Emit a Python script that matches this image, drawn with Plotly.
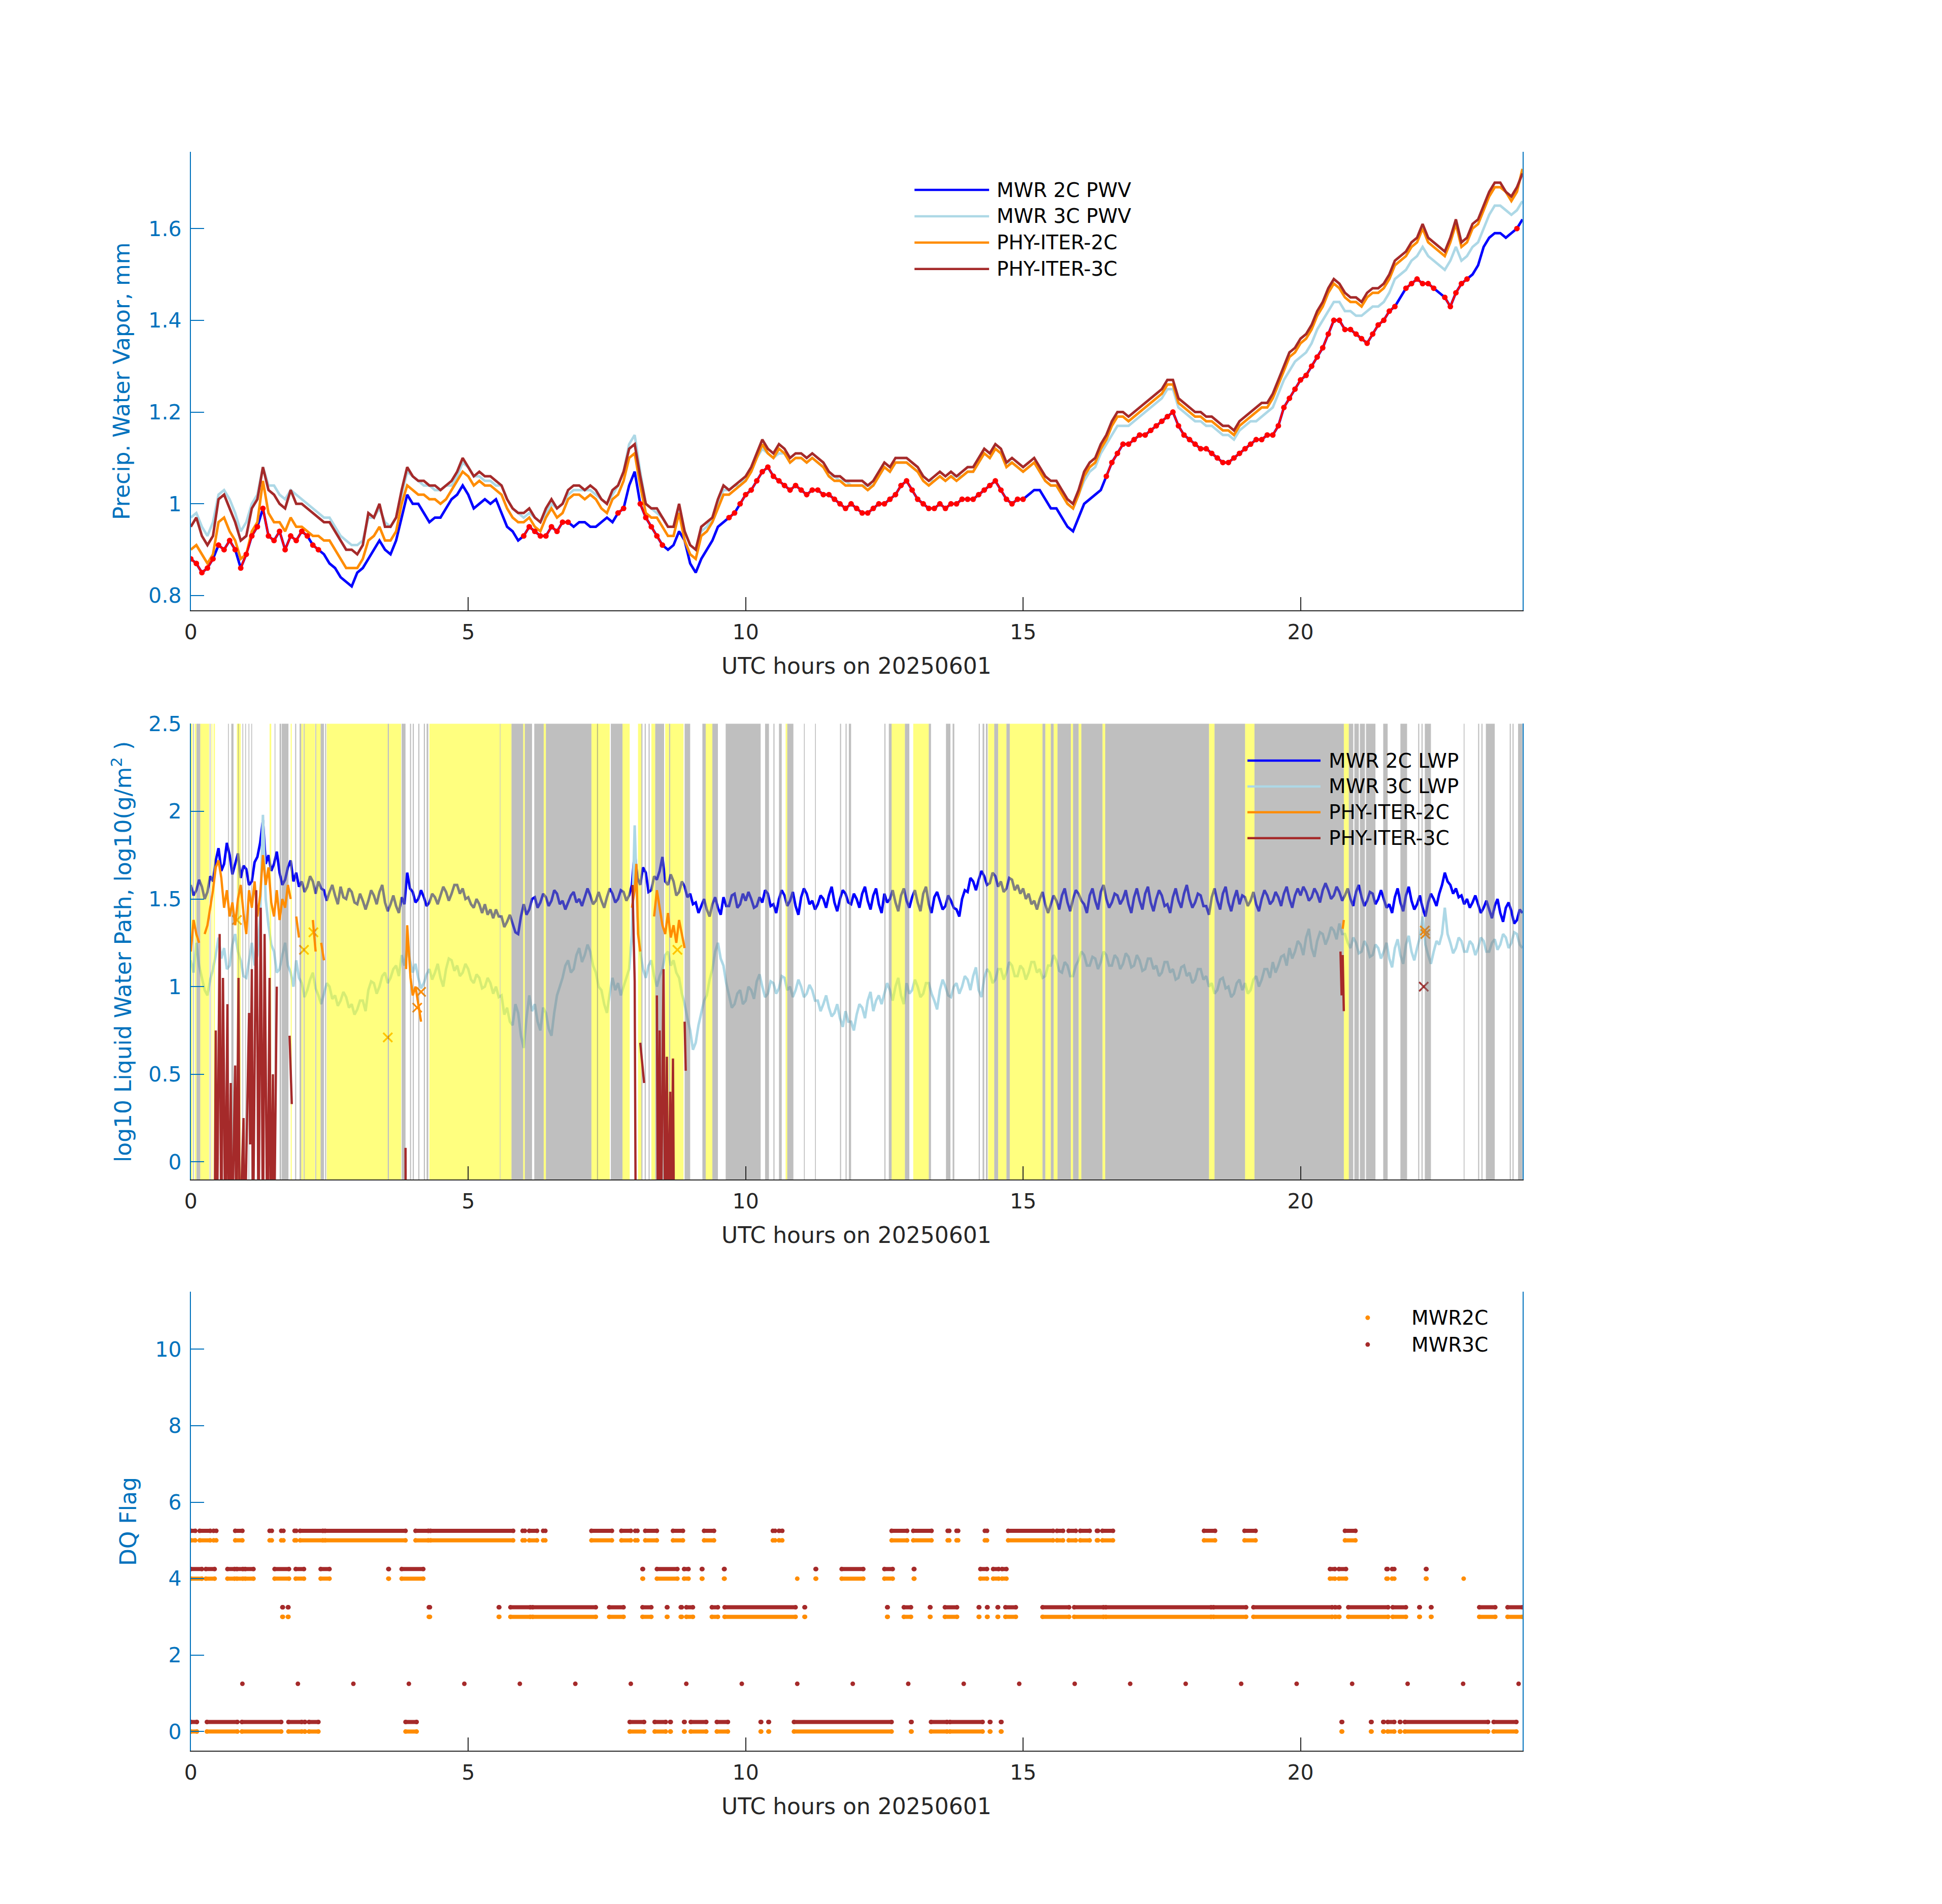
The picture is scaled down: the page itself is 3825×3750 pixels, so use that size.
import numpy as np
import plotly.graph_objects as go

W, H = 3825, 3750

# sample times, UTC hours: PWV every 6 minutes, LWP every 3 minutes
hours = np.round(np.arange(241) * 0.1, 2)
hours_fine = np.round(np.arange(481) * 0.05, 2)

# ---- precipitable water vapour, mm ----
pwv_mwr2c = [
    0.88, 0.87, 0.85, 0.86, 0.88, 0.91, 0.90, 0.92, 0.90, 0.86,
    0.89, 0.93, 0.95, 0.99, 0.93, 0.92, 0.94, 0.90, 0.93, 0.92,
    0.94, 0.93, 0.91, 0.90, 0.89, 0.87, 0.86, 0.84, 0.83, 0.82,
    0.85, 0.86, 0.88, 0.90, 0.92, 0.90, 0.89, 0.92, 0.97, 1.02,
    1.00, 1.00, 0.98, 0.96, 0.97, 0.97, 0.99, 1.01, 1.02, 1.04,
    1.02, 0.99, 1.00, 1.01, 1.00, 1.01, 0.98, 0.95, 0.94, 0.92,
    0.93, 0.95, 0.94, 0.93, 0.93, 0.95, 0.94, 0.96, 0.96, 0.95,
    0.96, 0.96, 0.95, 0.95, 0.96, 0.97, 0.96, 0.98, 0.99, 1.04,
    1.07, 1.00, 0.97, 0.95, 0.93, 0.91, 0.90, 0.91, 0.94, 0.92,
    0.87, 0.85, 0.88, 0.90, 0.92, 0.95, 0.96, 0.97, 0.98, 1.00,
    1.02, 1.03, 1.05, 1.07, 1.08, 1.06, 1.05, 1.04, 1.03, 1.04,
    1.03, 1.02, 1.03, 1.03, 1.02, 1.02, 1.01, 1.00, 0.99, 1.00,
    0.99, 0.98, 0.98, 0.99, 1.00, 1.00, 1.01, 1.02, 1.04, 1.05,
    1.03, 1.01, 1.00, 0.99, 0.99, 1.00, 0.99, 1.00, 1.00, 1.01,
    1.01, 1.01, 1.02, 1.03, 1.04, 1.05, 1.03, 1.01, 1.00, 1.01,
    1.01, 1.02, 1.03, 1.03, 1.01, 0.99, 0.99, 0.97, 0.95, 0.94,
    0.97, 1.00, 1.01, 1.02, 1.03, 1.06, 1.09, 1.11, 1.13, 1.13,
    1.14, 1.15, 1.15, 1.16, 1.17, 1.18, 1.19, 1.20, 1.17, 1.15,
    1.14, 1.13, 1.12, 1.12, 1.11, 1.10, 1.09, 1.09, 1.10, 1.11,
    1.12, 1.13, 1.14, 1.14, 1.15, 1.15, 1.17, 1.21, 1.23, 1.25,
    1.27, 1.28, 1.30, 1.32, 1.34, 1.37, 1.40, 1.40, 1.38, 1.38,
    1.37, 1.36, 1.35, 1.37, 1.39, 1.40, 1.42, 1.43, 1.45, 1.47,
    1.48, 1.49, 1.48, 1.48, 1.47, 1.46, 1.45, 1.43, 1.46, 1.48,
    1.49, 1.50, 1.52, 1.56, 1.58, 1.59, 1.59, 1.58, 1.59, 1.60,
    1.62,
]
pwv_mwr3c = [
    0.97, 0.98, 0.95, 0.93, 0.96, 1.02, 1.03, 1.01, 0.98, 0.94,
    0.96, 1.00, 1.02, 1.08, 1.04, 1.04, 1.02, 1.01, 1.03, 1.02,
    1.01, 1.00, 0.99, 0.98, 0.97, 0.97, 0.95, 0.93, 0.92, 0.91,
    0.91, 0.92, 0.97, 0.97, 0.99, 0.96, 0.95, 0.97, 1.02, 1.07,
    1.06, 1.05, 1.04, 1.04, 1.03, 1.03, 1.04, 1.04, 1.06, 1.09,
    1.08, 1.06, 1.06, 1.05, 1.05, 1.04, 1.04, 1.01, 0.99, 0.98,
    0.97, 0.98, 0.97, 0.96, 0.98, 1.00, 0.99, 1.00, 1.02, 1.03,
    1.03, 1.03, 1.03, 1.02, 1.01, 1.00, 1.02, 1.04, 1.07, 1.13,
    1.15, 1.07, 1.00, 0.99, 0.98, 0.97, 0.95, 0.95, 0.99, 0.94,
    0.91, 0.90, 0.94, 0.95, 0.97, 1.00, 1.03, 1.03, 1.04, 1.04,
    1.06, 1.07, 1.10, 1.12, 1.11, 1.10, 1.11, 1.11, 1.09, 1.10,
    1.10, 1.09, 1.10, 1.09, 1.08, 1.06, 1.06, 1.05, 1.05, 1.04,
    1.04, 1.04, 1.04, 1.04, 1.06, 1.08, 1.07, 1.09, 1.09, 1.09,
    1.08, 1.07, 1.06, 1.05, 1.05, 1.06, 1.05, 1.06, 1.06, 1.06,
    1.07, 1.07, 1.09, 1.11, 1.10, 1.12, 1.11, 1.09, 1.09, 1.08,
    1.07, 1.08, 1.09, 1.07, 1.05, 1.04, 1.04, 1.02, 1.00, 0.99,
    1.02, 1.05, 1.07, 1.08, 1.11, 1.13, 1.15, 1.17, 1.17, 1.17,
    1.18, 1.19, 1.20, 1.21, 1.22, 1.23, 1.25, 1.25, 1.21, 1.20,
    1.19, 1.18, 1.18, 1.17, 1.17, 1.16, 1.15, 1.15, 1.14, 1.16,
    1.17, 1.18, 1.18, 1.19, 1.20, 1.21, 1.24, 1.27, 1.29, 1.31,
    1.32, 1.33, 1.35, 1.38, 1.40, 1.42, 1.44, 1.44, 1.42, 1.42,
    1.41, 1.41, 1.42, 1.43, 1.43, 1.44, 1.46, 1.49, 1.50, 1.51,
    1.53, 1.54, 1.56, 1.54, 1.53, 1.52, 1.51, 1.53, 1.56, 1.53,
    1.54, 1.56, 1.57, 1.60, 1.63, 1.65, 1.65, 1.64, 1.63, 1.64,
    1.66,
]
pwv_phy2c = [
    0.90, 0.91, 0.89, 0.87, 0.89, 0.96, 0.97, 0.94, 0.92, 0.88,
    0.89, 0.94, 0.96, 1.05, 0.98, 0.96, 0.96, 0.94, 0.97, 0.95,
    0.95, 0.94, 0.93, 0.93, 0.92, 0.92, 0.90, 0.88, 0.86, 0.86,
    0.86, 0.88, 0.92, 0.93, 0.95, 0.92, 0.92, 0.94, 1.00, 1.04,
    1.03, 1.02, 1.02, 1.01, 1.01, 1.00, 1.01, 1.03, 1.05, 1.07,
    1.06, 1.04, 1.05, 1.04, 1.04, 1.03, 1.02, 0.99, 0.97, 0.96,
    0.96, 0.97, 0.95, 0.94, 0.97, 0.99, 0.97, 0.98, 1.01, 1.02,
    1.02, 1.01, 1.02, 1.01, 0.99, 0.98, 1.01, 1.02, 1.05, 1.10,
    1.11, 1.04, 0.98, 0.97, 0.97, 0.95, 0.93, 0.93, 0.98, 0.92,
    0.89, 0.88, 0.93, 0.94, 0.96, 0.99, 1.02, 1.02, 1.03, 1.04,
    1.05, 1.07, 1.10, 1.13, 1.11, 1.10, 1.12, 1.11, 1.09, 1.10,
    1.10, 1.09, 1.10, 1.09, 1.08, 1.06, 1.05, 1.05, 1.04, 1.04,
    1.04, 1.04, 1.03, 1.04, 1.06, 1.08, 1.07, 1.09, 1.09, 1.09,
    1.08, 1.07, 1.05, 1.04, 1.05, 1.06, 1.05, 1.06, 1.05, 1.06,
    1.07, 1.07, 1.09, 1.11, 1.10, 1.12, 1.11, 1.08, 1.09, 1.08,
    1.07, 1.08, 1.09, 1.07, 1.05, 1.04, 1.04, 1.02, 1.00, 0.99,
    1.02, 1.06, 1.08, 1.09, 1.12, 1.14, 1.17, 1.19, 1.19, 1.18,
    1.19, 1.20, 1.21, 1.22, 1.23, 1.24, 1.26, 1.26, 1.22, 1.21,
    1.20, 1.19, 1.19, 1.18, 1.18, 1.17, 1.16, 1.16, 1.15, 1.17,
    1.18, 1.19, 1.20, 1.21, 1.21, 1.23, 1.26, 1.29, 1.32, 1.33,
    1.35, 1.36, 1.38, 1.41, 1.43, 1.46, 1.48, 1.47, 1.45, 1.44,
    1.44, 1.43, 1.45, 1.46, 1.46, 1.47, 1.49, 1.52, 1.53, 1.54,
    1.56, 1.57, 1.60, 1.57, 1.56, 1.55, 1.54, 1.57, 1.61, 1.56,
    1.57, 1.60, 1.61, 1.64, 1.67, 1.69, 1.69, 1.68, 1.66, 1.68,
    1.73,
]
pwv_phy3c = [
    0.95, 0.97, 0.93, 0.91, 0.93, 1.01, 1.02, 0.99, 0.96, 0.92,
    0.93, 0.99, 1.01, 1.08, 1.03, 1.02, 1.00, 0.99, 1.03, 1.00,
    1.00, 0.99, 0.98, 0.97, 0.96, 0.96, 0.94, 0.92, 0.90, 0.90,
    0.89, 0.91, 0.98, 0.97, 1.00, 0.95, 0.95, 0.97, 1.03, 1.08,
    1.06, 1.05, 1.05, 1.04, 1.04, 1.03, 1.04, 1.05, 1.07, 1.10,
    1.08, 1.06, 1.07, 1.06, 1.06, 1.05, 1.04, 1.01, 0.99, 0.98,
    0.98, 0.99, 0.97, 0.96, 0.99, 1.01, 0.99, 1.00, 1.03, 1.04,
    1.04, 1.03, 1.04, 1.03, 1.01, 1.00, 1.03, 1.04, 1.07, 1.12,
    1.13, 1.06, 1.00, 0.99, 0.99, 0.97, 0.95, 0.95, 1.00, 0.94,
    0.91, 0.90, 0.95, 0.96, 0.97, 1.01, 1.04, 1.03, 1.04, 1.05,
    1.06, 1.08, 1.11, 1.14, 1.12, 1.11, 1.13, 1.12, 1.10, 1.11,
    1.11, 1.10, 1.11, 1.10, 1.09, 1.07, 1.06, 1.06, 1.05, 1.05,
    1.05, 1.05, 1.04, 1.05, 1.07, 1.09, 1.08, 1.10, 1.10, 1.10,
    1.09, 1.08, 1.06, 1.05, 1.06, 1.07, 1.06, 1.07, 1.06, 1.07,
    1.08, 1.08, 1.10, 1.12, 1.11, 1.13, 1.12, 1.09, 1.10, 1.09,
    1.08, 1.09, 1.10, 1.08, 1.06, 1.05, 1.05, 1.03, 1.01, 1.00,
    1.03, 1.07, 1.09, 1.10, 1.13, 1.15, 1.18, 1.20, 1.20, 1.19,
    1.20, 1.21, 1.22, 1.23, 1.24, 1.25, 1.27, 1.27, 1.23, 1.22,
    1.21, 1.20, 1.20, 1.19, 1.19, 1.18, 1.17, 1.17, 1.16, 1.18,
    1.19, 1.20, 1.21, 1.22, 1.22, 1.24, 1.27, 1.30, 1.33, 1.34,
    1.36, 1.37, 1.39, 1.42, 1.44, 1.47, 1.49, 1.48, 1.46, 1.45,
    1.45, 1.44, 1.46, 1.47, 1.47, 1.48, 1.50, 1.53, 1.54, 1.55,
    1.57, 1.58, 1.61, 1.58, 1.57, 1.56, 1.55, 1.58, 1.62, 1.57,
    1.58, 1.61, 1.62, 1.65, 1.68, 1.70, 1.70, 1.68, 1.67, 1.69,
    1.72,
]

# stretches where the MWR 2C PWV samples are marked in red (start, end hour)
pwv_red_spans = [
    (0.0, 0.4), (0.5, 0.8), (0.9, 1.2), (1.3, 2.1), (2.2, 2.3), (6.0, 6.8),
    (7.7, 7.8), (8.1, 8.5), (9.7, 9.8), (9.9, 15.0), (16.5, 20.6),
    (20.7, 21.7), (21.9, 22.4), (22.6, 23.0), (23.9, 23.9),
]

# ---- liquid water path, log10(g/m^2), on hours_fine ----
lwp_mwr2c = [
    1.58, 1.52, 1.55, 1.61, 1.57, 1.50, 1.54, 1.63, 1.60, 1.72, 1.79, 1.66, 1.70, 1.82, 1.75, 1.64, 1.70, 1.76, 1.62, 1.69,
    1.67, 1.58, 1.60, 1.71, 1.74, 1.82, 1.95, 1.70, 1.75, 1.66, 1.70, 1.77, 1.65, 1.58, 1.61, 1.68, 1.72, 1.60, 1.65, 1.57,
    1.60, 1.54, 1.57, 1.63, 1.60, 1.53, 1.60, 1.56, 1.55, 1.49, 1.54, 1.58, 1.52, 1.47, 1.57, 1.51, 1.50, 1.56, 1.54, 1.48,
    1.47, 1.53, 1.49, 1.44, 1.49, 1.55, 1.52, 1.47, 1.54, 1.58, 1.48, 1.43, 1.47, 1.52, 1.46, 1.42, 1.51, 1.47, 1.65, 1.56,
    1.54, 1.48, 1.50, 1.55, 1.51, 1.46, 1.48, 1.53, 1.51, 1.47, 1.52, 1.57, 1.54, 1.49, 1.53, 1.58, 1.58, 1.53, 1.56, 1.50,
    1.51, 1.47, 1.45, 1.50, 1.47, 1.42, 1.47, 1.41, 1.44, 1.39, 1.44, 1.40, 1.40, 1.34, 1.37, 1.41, 1.36, 1.31, 1.30, 1.40,
    1.47, 1.41, 1.44, 1.50, 1.51, 1.45, 1.48, 1.53, 1.51, 1.46, 1.49, 1.55, 1.53, 1.47, 1.49, 1.44, 1.48, 1.52, 1.54, 1.48,
    1.50, 1.46, 1.51, 1.56, 1.52, 1.47, 1.49, 1.54, 1.49, 1.45, 1.51, 1.56, 1.53, 1.48, 1.50, 1.55, 1.54, 1.49, 1.52, 1.58,
    1.77, 1.62, 1.58, 1.68, 1.65, 1.54, 1.55, 1.63, 1.61, 1.66, 1.74, 1.60, 1.58, 1.64, 1.60, 1.52, 1.54, 1.60, 1.57, 1.51,
    1.53, 1.47, 1.48, 1.42, 1.46, 1.50, 1.44, 1.40, 1.47, 1.51, 1.45, 1.41, 1.51, 1.46, 1.46, 1.52, 1.53, 1.45, 1.47, 1.53,
    1.49, 1.54, 1.50, 1.45, 1.46, 1.51, 1.48, 1.55, 1.53, 1.46, 1.47, 1.42, 1.50, 1.55, 1.52, 1.46, 1.49, 1.54, 1.46, 1.41,
    1.51, 1.56, 1.53, 1.47, 1.49, 1.44, 1.47, 1.52, 1.50, 1.45, 1.52, 1.57, 1.48, 1.43, 1.50, 1.55, 1.53, 1.48, 1.47, 1.53,
    1.50, 1.45, 1.53, 1.57, 1.49, 1.44, 1.52, 1.56, 1.47, 1.42, 1.53, 1.48, 1.50, 1.55, 1.48, 1.43, 1.52, 1.56, 1.49, 1.45,
    1.51, 1.55, 1.48, 1.43, 1.53, 1.57, 1.47, 1.42, 1.51, 1.54, 1.49, 1.44, 1.46, 1.52, 1.49, 1.45, 1.44, 1.40, 1.50, 1.55,
    1.54, 1.62, 1.60, 1.55, 1.61, 1.66, 1.63, 1.58, 1.59, 1.65, 1.63, 1.57, 1.60, 1.54, 1.56, 1.62, 1.61, 1.55, 1.58, 1.53,
    1.56, 1.50, 1.53, 1.47, 1.49, 1.44, 1.50, 1.54, 1.47, 1.42, 1.47, 1.52, 1.49, 1.44, 1.52, 1.56, 1.48, 1.43, 1.50, 1.55,
    1.53, 1.49, 1.47, 1.42, 1.52, 1.56, 1.49, 1.44, 1.54, 1.58, 1.50, 1.45, 1.48, 1.53, 1.52, 1.47, 1.50, 1.55, 1.47, 1.42,
    1.51, 1.56, 1.49, 1.44, 1.53, 1.57, 1.48, 1.43, 1.50, 1.55, 1.52, 1.46, 1.47, 1.42, 1.51, 1.56, 1.49, 1.45, 1.53, 1.58,
    1.50, 1.45, 1.48, 1.53, 1.52, 1.46, 1.46, 1.41, 1.51, 1.56, 1.49, 1.44, 1.53, 1.57, 1.48, 1.43, 1.50, 1.55, 1.47, 1.52,
    1.51, 1.46, 1.49, 1.54, 1.47, 1.43, 1.50, 1.55, 1.52, 1.47, 1.49, 1.54, 1.51, 1.46, 1.53, 1.57, 1.50, 1.45, 1.52, 1.56,
    1.52, 1.57, 1.54, 1.49, 1.51, 1.56, 1.53, 1.48, 1.55, 1.59, 1.55, 1.50, 1.52, 1.57, 1.54, 1.49, 1.52, 1.56, 1.50, 1.46,
    1.54, 1.58, 1.51, 1.46, 1.49, 1.54, 1.53, 1.47, 1.50, 1.55, 1.50, 1.45, 1.47, 1.42, 1.51, 1.56, 1.48, 1.43, 1.52, 1.57,
    1.49, 1.44, 1.47, 1.52, 1.45, 1.40, 1.48, 1.53, 1.50, 1.46, 1.53, 1.58, 1.65, 1.60, 1.58, 1.53, 1.56, 1.51, 1.52, 1.47,
    1.50, 1.45, 1.48, 1.52, 1.47, 1.42, 1.45, 1.49, 1.44, 1.39, 1.46, 1.50, 1.42, 1.37, 1.45, 1.48, 1.43, 1.36, 1.38, 1.44,
    1.42,
]
lwp_mwr3c = [
    1.15, 1.08, 1.25, 1.12, 1.05, 0.98, 0.95, 1.04, 1.10, 1.18, 1.28, 1.16, 1.22, 1.10, 1.12, 1.24, 1.30, 1.20, 1.15, 1.06,
    1.05, 1.14, 1.25, 1.12, 1.18, 1.40, 1.98, 1.50, 1.35, 1.24, 1.20, 1.08, 1.10, 1.18, 1.25, 1.12, 1.08, 1.00, 1.15, 1.05,
    1.02, 0.94, 0.98, 1.04, 1.08, 0.99, 0.95, 0.90, 0.96, 1.02, 1.00, 0.93, 0.95, 0.89, 0.92, 0.97, 0.94, 0.88, 0.90, 0.84,
    0.87, 0.92, 0.92, 0.86, 0.98, 1.03, 1.02, 0.96, 1.00, 1.06, 1.08, 1.02, 1.05, 1.10, 1.12, 1.06, 1.18, 1.12, 1.22, 1.15,
    1.08, 1.13, 1.05, 0.99, 1.02, 1.07, 1.10, 1.04, 1.08, 1.13, 1.05, 1.00, 1.10, 1.16, 1.15, 1.09, 1.12, 1.06, 1.08, 1.13,
    1.10, 1.04, 1.02, 1.07, 1.05, 0.99, 1.00, 1.05, 1.02, 0.96, 1.00, 0.94, 0.95, 0.84, 0.88, 0.80, 0.78, 0.90, 0.85, 0.72,
    0.65, 0.82, 0.95, 0.86, 0.90, 0.80, 0.75, 0.88, 0.85, 0.76, 0.72, 0.85, 0.95, 1.00, 1.05, 1.12, 1.15, 1.08, 1.10, 1.18,
    1.22, 1.14, 1.18, 1.24, 1.20, 1.12, 1.08, 1.00, 0.98, 0.90, 0.85, 0.96, 1.05, 0.98, 1.02, 0.95, 1.00, 1.06, 1.10, 1.30,
    1.92, 1.40, 1.20, 1.10, 1.05, 1.12, 1.15, 1.06, 1.00, 1.06, 1.10, 1.18, 1.20, 1.12, 1.15, 1.08, 1.05, 0.96, 0.90, 0.82,
    0.75, 0.64, 0.68, 0.78, 0.85, 0.92, 0.95, 1.04, 1.10, 1.20, 1.25, 1.16, 1.12, 1.02, 0.95, 0.88, 0.90, 0.96, 0.98, 0.90,
    0.92, 1.00, 0.98, 0.93, 1.03, 1.07, 1.00, 0.94, 0.96, 1.03, 1.02, 0.96, 0.99, 1.06, 1.05, 0.98, 1.00, 0.94, 0.98, 1.04,
    1.00, 0.94, 0.96, 1.01, 0.98, 0.92, 0.92, 0.86, 0.90, 0.95, 0.88, 0.83, 0.85, 0.90, 0.82, 0.77, 0.86, 0.80, 0.80, 0.75,
    0.84, 0.90, 0.88, 0.82, 0.92, 0.97, 0.86, 0.92, 0.95, 0.90, 0.96, 1.02, 0.98, 0.92, 1.00, 1.05, 0.95, 0.90, 1.02, 0.96,
    0.98, 1.04, 1.00, 0.94, 0.96, 1.02, 1.02, 0.96, 0.92, 0.87, 0.98, 1.04, 1.00, 0.95, 0.94, 1.00, 1.02, 0.96, 1.00, 1.06,
    1.04, 0.98, 1.06, 1.11, 0.98, 0.94, 1.05, 1.10, 1.08, 1.02, 1.04, 1.10, 1.10, 1.04, 1.08, 1.14, 1.12, 1.06, 1.06, 1.12,
    1.10, 1.04, 1.08, 1.14, 1.14, 1.08, 1.10, 1.05, 1.06, 1.12, 1.12, 1.18, 1.15, 1.09, 1.08, 1.14, 1.12, 1.06, 1.06, 1.12,
    1.15, 1.20, 1.18, 1.12, 1.12, 1.17, 1.16, 1.10, 1.14, 1.20, 1.18, 1.12, 1.12, 1.18, 1.16, 1.10, 1.13, 1.19, 1.17, 1.11,
    1.12, 1.18, 1.15, 1.09, 1.10, 1.16, 1.16, 1.10, 1.12, 1.06, 1.08, 1.14, 1.14, 1.08, 1.10, 1.04, 1.05, 1.11, 1.12, 1.06,
    1.08, 1.02, 1.04, 1.10, 1.10, 1.04, 1.06, 1.00, 1.02, 0.96, 0.98, 1.04, 1.05, 0.99, 1.00, 0.94, 0.96, 1.02, 1.04, 0.98,
    1.02, 0.96, 0.98, 1.04, 1.06, 1.00, 1.04, 1.10, 1.10, 1.05, 1.14, 1.08, 1.12, 1.17, 1.18, 1.12, 1.22, 1.16, 1.20, 1.26,
    1.24, 1.18, 1.28, 1.33, 1.22, 1.17, 1.26, 1.31, 1.30, 1.24, 1.28, 1.34, 1.32, 1.27, 1.36, 1.30, 1.30, 1.25, 1.22, 1.28,
    1.25, 1.19, 1.20, 1.26, 1.23, 1.17, 1.18, 1.24, 1.22, 1.16, 1.20, 1.25, 1.16, 1.11, 1.22, 1.27, 1.18, 1.13, 1.24, 1.29,
    1.20, 1.15, 1.22, 1.28, 1.40, 1.24, 1.18, 1.13, 1.20, 1.26, 1.24, 1.30, 1.45, 1.30, 1.25, 1.19, 1.22, 1.28, 1.26, 1.20,
    1.20, 1.26, 1.24, 1.18, 1.22, 1.28, 1.26, 1.20, 1.20, 1.25, 1.27, 1.21, 1.24, 1.30, 1.28, 1.22, 1.25, 1.31, 1.30, 1.24,
    1.22,
]

# physical-iterative retrievals: only short stretches exist (None = gap)
lwp_phy2c_t = [0.00, 0.05, 0.10, 0.15, None,
               0.25, 0.30, 0.35, 0.40, 0.45, 0.50, 0.55, 0.60, 0.65, 0.70,
               0.75, 0.80, 0.85, 0.90, 0.95, 1.00, 1.05, 1.10, 1.15, 1.20,
               1.25, 1.30, 1.35, 1.40, 1.45, 1.50, 1.55, 1.60, 1.65, 1.70,
               1.75, 1.80, None, 1.90, 1.95, None, 2.20, 2.25, None, 2.35, 2.40, None,
               3.88, 3.90, 3.93, 3.96, 4.00, 4.05, 4.10, 4.15, None,
               7.95, 8.00, 8.03, 8.06, 8.10, None,
               8.35, 8.40, 8.45, 8.50, 8.55, 8.60, 8.65, 8.70, 8.75, 8.80,
               8.85, 8.90, None, 20.76, 20.78]
lwp_phy2c_v = [1.20, 1.38, 1.30, 1.25, None,
               1.30, 1.35, 1.45, 1.55, 1.68, 1.72, 1.62, 1.45, 1.55, 1.40,
               1.48, 1.35, 1.50, 1.58, 1.42, 1.30, 1.55, 1.45, 1.60, 1.40,
               1.52, 1.75, 1.58, 1.68, 1.48, 1.40, 1.55, 1.38, 1.50, 1.45,
               1.58, 1.50, None, 1.40, 1.28, None, 1.38, 1.20, None, 1.25, 1.15, None,
               1.10, 1.35, 1.20, 1.05, 0.95, 1.00, 0.90, 0.80, None,
               1.45, 1.55, 1.70, 1.30, 1.20, None,
               1.40, 1.55, 1.45, 1.35, 1.30, 1.42, 1.28, 1.35, 1.25, 1.38,
               1.30, 1.22, None, 1.33, 1.38]
# values below the axis stand for log10 of near-zero water paths
lwp_phy3c_t = [0.43, 0.45, 0.47, 0.52, 0.55, 0.58, 0.60, 0.62, 0.66, 0.68,
               0.72, 0.74, 0.80, 0.82, 0.86, 0.88, 0.95, 0.97, 1.05, 1.07,
               1.10, 1.12, 1.18, 1.20, 1.22, 1.26, 1.28, 1.30, 1.33, 1.36,
               1.38, 1.42, 1.44, 1.48, 1.50, 1.55, None,
               1.78, 1.80, 1.82, None, 3.87, 3.875, None,
               7.96, 7.98, 8.00, 8.02, None, 8.10, 8.14, 8.17, None,
               8.40, 8.42, 8.45, 8.47, 8.52, 8.55, 8.58, 8.60, 8.64, 8.66,
               8.69, 8.71, None, 8.90, 8.92, None,
               20.72, 20.74, 20.76, 20.78]
lwp_phy3c_v = [-0.5, 0.75, -0.5, 1.30, -0.5, 1.05, 0.40, -0.5, 0.90, -0.5,
               0.45, -0.5, 0.55, -0.5, 1.05, -0.5, 0.25, -0.5, 0.85, 0.10,
               1.10, -0.5, 1.55, 0.80, -0.5, 1.45, 0.60, -0.5, 1.30, 0.20,
               -0.5, 1.05, -0.5, 0.50, -0.5, 1.00, None,
               0.72, 0.55, 0.33, None, 0.08, -0.5, None,
               1.58, 1.25, 1.03, -0.5, None, 0.68, 0.55, 0.45, None,
               0.95, -0.5, 0.75, -0.5, 1.10, -0.5, 0.60, -0.5, 0.40, -0.5,
               0.59, -0.5, None, 0.80, 0.52, None,
               1.20, 0.95, 1.18, 0.86]

# isolated retrievals shown as crosses
lwp_x2c_t = [0.83, 2.04, 2.21, 3.55, 4.08, 4.15, 8.77, 22.24, 22.25]
lwp_x2c_v = [1.38, 1.21, 1.31, 0.71, 0.88, 0.97, 1.21, 1.32, 1.30]
lwp_x3c_t = [22.22]
lwp_x3c_v = [1.00]

# sky-condition flags shaded in the LWP panel (start, end hour)
yellow_spans = [
    (0.00, 0.03), (0.07, 0.10), (0.17, 0.33), (0.37, 0.39), (0.41, 0.435),
    (0.83, 0.90), (1.42, 1.45), (1.80, 1.82), (1.99, 2.03), (2.05, 2.24),
    (2.26, 2.34), (2.45, 3.55), (3.57, 3.79), (4.30, 5.57), (5.58, 5.78),
    (5.99, 6.02), (6.36, 6.40), (7.22, 7.55), (7.78, 7.91), (8.06, 8.12),
    (8.30, 8.37), (8.55, 8.62), (8.64, 8.88), (9.28, 9.40), (10.72, 10.75),
    (12.63, 12.87), (13.02, 13.30), (14.37, 14.48), (14.55, 14.70),
    (14.76, 15.35), (15.40, 15.50), (15.55, 15.62), (15.86, 15.90),
    (16.00, 16.05), (16.43, 16.48), (18.35, 18.45), (19.00, 19.17),
    (20.78, 20.87),
]
gray_spans = [
    (0.04, 0.055), (0.103, 0.17), (0.34, 0.355), (0.67, 0.685), (0.73, 0.77),
    (0.85, 0.865), (0.93, 0.945), (0.98, 0.995), (1.04, 1.055), (1.09, 1.105),
    (1.51, 1.525), (1.60, 1.63), (1.64, 1.76), (1.88, 1.90), (1.96, 1.99),
    (2.035, 2.05), (2.245, 2.26), (2.34, 2.40), (2.42, 2.44), (3.55, 3.57),
    (3.80, 3.87), (3.95, 3.97), (4.00, 4.02), (4.10, 4.12), (4.20, 4.22),
    (4.25, 4.28), (5.57, 5.58), (5.78, 5.99), (6.02, 6.15), (6.19, 6.36),
    (6.40, 7.22), (7.32, 7.34), (7.57, 7.78), (8.12, 8.14), (8.18, 8.20),
    (8.25, 8.27), (8.37, 8.53), (8.62, 8.64), (8.90, 9.00), (9.22, 9.28),
    (9.40, 9.50), (9.64, 10.27), (10.35, 10.42), (10.50, 10.52),
    (10.60, 10.65), (10.75, 10.86), (11.05, 11.065), (11.25, 11.265),
    (11.70, 11.72), (11.80, 11.82), (11.86, 11.90), (12.50, 12.52),
    (12.58, 12.63), (12.87, 12.95), (13.30, 13.34), (13.61, 13.69),
    (13.73, 13.76), (14.20, 14.22), (14.27, 14.30), (14.33, 14.36),
    (14.48, 14.55), (14.70, 14.76), (15.35, 15.40), (15.50, 15.55),
    (15.62, 15.86), (15.90, 16.00), (16.05, 16.43), (16.48, 18.35),
    (18.45, 19.00), (19.17, 20.78), (20.87, 20.95), (20.97, 21.05),
    (21.07, 21.16), (21.18, 21.35), (21.49, 21.57), (21.80, 21.92),
    (22.12, 22.14), (22.18, 22.20), (22.24, 22.35), (22.94, 22.955),
    (23.20, 23.22), (23.26, 23.28), (23.34, 23.50), (23.77, 23.79),
    (23.82, 23.84), (23.92, 24.00),
]

# ---- data-quality flag runs (start, end hour), shared by both radiometers ----
dq_flag_runs = {
    5: [(0.00, 0.08), (0.16, 0.35), (0.41, 0.46), (0.80, 0.93), (1.42, 1.46),
        (1.63, 1.67), (1.87, 1.90), (1.97, 2.38), (2.42, 3.87), (4.05, 4.28),
        (4.32, 5.81), (5.98, 6.02), (6.10, 6.24), (6.35, 6.39), (7.22, 7.59),
        (7.76, 7.93), (8.01, 8.05), (8.19, 8.40), (8.69, 8.87), (9.25, 9.43),
        (10.49, 10.53), (10.60, 10.66), (12.63, 12.91), (13.02, 13.35),
        (13.64, 13.67), (13.80, 13.83), (14.31, 14.35), (14.73, 15.54),
        (15.61, 15.72), (15.82, 15.95), (16.03, 16.20), (16.33, 16.35),
        (16.43, 16.62), (18.26, 18.46), (18.99, 19.19), (20.80, 20.99)],
    4: [(0.00, 0.20), (0.27, 0.43), (0.66, 0.79), (0.83, 0.94), (0.98, 1.13),
        (1.51, 1.77), (1.89, 2.04), (2.34, 2.50), (3.56, 3.57), (3.80, 4.19),
        (8.14, 8.15), (8.40, 8.77), (8.89, 8.97), (9.21, 9.22), (9.61, 9.62),
        (11.26, 11.27), (11.73, 12.12), (12.50, 12.65), (13.03, 13.04),
        (14.23, 14.35), (14.46, 14.56), (14.62, 14.70), (20.53, 20.62),
        (20.69, 20.82), (21.55, 21.57), (21.65, 21.69), (22.26, 22.27)],
    3: [(1.65, 1.66), (1.75, 1.76), (4.29, 4.31), (5.55, 5.56), (5.76, 6.12),
        (6.16, 7.30), (7.54, 7.80), (8.14, 8.30), (8.58, 8.59), (8.83, 8.85),
        (8.93, 9.05), (9.39, 9.50), (9.62, 10.90), (11.06, 11.07),
        (12.55, 12.56), (12.85, 12.98), (13.32, 13.33), (13.59, 13.81),
        (14.20, 14.21), (14.35, 14.36), (14.54, 14.55), (14.68, 14.87),
        (15.35, 15.83), (15.92, 16.45), (16.49, 18.39), (18.43, 19.02),
        (19.15, 20.57), (20.62, 20.70), (20.86, 21.58), (21.66, 21.90),
        (22.14, 22.15), (22.35, 22.36), (23.22, 23.51), (23.73, 24.00)],
    0: [(0.00, 0.11), (0.29, 0.84), (0.92, 1.63), (1.76, 2.00), (2.05, 2.06),
        (2.13, 2.30), (3.87, 4.07), (7.91, 8.17), (8.36, 8.56), (8.64, 8.65),
        (8.89, 8.90), (9.01, 9.29), (9.48, 9.68), (10.27, 10.28),
        (10.41, 10.42), (10.87, 12.63), (12.98, 12.99), (13.34, 13.63),
        (13.68, 14.27), (14.40, 14.41), (14.60, 14.61), (20.74, 20.75),
        (21.27, 21.28), (21.49, 21.50), (21.57, 21.69), (21.79, 21.80),
        (21.88, 23.38), (23.48, 23.89)],
}
dq_mwr2c_extra_flag4 = [10.93, 22.94]
dq_mwr3c_flag1 = [0.93, 1.93, 2.93, 3.93, 4.93, 5.93, 6.93, 7.93, 8.93, 9.93,
                  10.93, 11.93, 12.93, 13.93, 14.93, 15.93, 16.93, 17.93,
                  18.93, 19.93, 20.93, 21.93, 22.93, 23.93]
dq_mwr3c_offset = 0.25

pwv_names = ["MWR 2C PWV", "MWR 3C PWV", "PHY-ITER-2C", "PHY-ITER-3C"]
lwp_names = ["MWR 2C LWP", "MWR 3C LWP", "PHY-ITER-2C", "PHY-ITER-3C"]
dq_names = ["MWR2C", "MWR3C"]

C_BLUE, C_LBLUE, C_ORANGE, C_BROWN = "#0000FF", "#ADD8E6", "#FF8C00", "#A52A2A"
AX_BLUE, AX_DARK = "#0072BD", "#262626"
FONT = "DejaVu Sans"

PWV_RANGE = [0.768, 1.767]
LWP_RANGE = [-0.1, 2.5]
DQ_RANGE = [-0.5, 11.5]


# positions below are in reference pixels; nudge them onto the page
def px(x):
    return (356 + (x - 376) * 1.003) / W


def py(y):
    return 1 - (269 + (y - 296) * 1.0038) / H


fig = go.Figure()

# ---------- top: PWV ----------
for vals, col in zip([pwv_mwr2c, pwv_mwr3c, pwv_phy2c, pwv_phy3c],
                     [C_BLUE, C_LBLUE, C_ORANGE, C_BROWN]):
    fig.add_trace(go.Scatter(x=hours, y=vals, mode="lines",
                             line=dict(color=col, width=5),
                             xaxis="x", yaxis="y", hoverinfo="skip"))

red_x, red_y = [], []
for s, e in pwv_red_spans:
    for t, v in zip(hours, pwv_mwr2c):
        if s - 1e-6 <= t <= e + 1e-6:
            red_x.append(t)
            red_y.append(v)
    red_x.append(None)
    red_y.append(None)
fig.add_trace(go.Scatter(x=red_x, y=red_y, mode="lines+markers",
                         line=dict(color="#FF0000", width=4),
                         marker=dict(color="#FF0000", size=11),
                         xaxis="x", yaxis="y", hoverinfo="skip"))

# ---------- middle: LWP ----------
fig.add_trace(go.Scatter(x=hours_fine, y=lwp_mwr2c, mode="lines",
                         line=dict(color=C_BLUE, width=5),
                         xaxis="x2", yaxis="y2", hoverinfo="skip"))
fig.add_trace(go.Scatter(x=hours_fine, y=lwp_mwr3c, mode="lines",
                         line=dict(color=C_LBLUE, width=5),
                         xaxis="x2", yaxis="y2", hoverinfo="skip"))
fig.add_trace(go.Scatter(x=lwp_x2c_t, y=lwp_x2c_v, mode="markers",
                         marker=dict(symbol="x-thin", size=18,
                                     line=dict(color=C_ORANGE, width=3.5)),
                         xaxis="x2", yaxis="y2", hoverinfo="skip"))
fig.add_trace(go.Scatter(x=lwp_x3c_t, y=lwp_x3c_v, mode="markers",
                         marker=dict(symbol="x-thin", size=18,
                                     line=dict(color=C_BROWN, width=3.5)),
                         xaxis="x2", yaxis="y2", hoverinfo="skip"))


def band_polys(spans, y0, y1):
    xs, ys = [], []
    for s, e in spans:
        xs += [s, e, e, s, s, None]
        ys += [y0, y0, y1, y1, y0, None]
    return xs, ys


for spans, fc in [(yellow_spans, "rgba(255,255,0,0.5)"),
                  (gray_spans, "rgba(128,128,128,0.5)")]:
    bx, by = band_polys(spans, LWP_RANGE[0], LWP_RANGE[1])
    fig.add_trace(go.Scatter(x=bx, y=by, mode="lines", fill="toself",
                             fillcolor=fc, line=dict(width=0),
                             xaxis="x2", yaxis="y2", hoverinfo="skip"))

fig.add_trace(go.Scatter(x=lwp_phy2c_t, y=lwp_phy2c_v, mode="lines",
                         line=dict(color=C_ORANGE, width=4.5),
                         xaxis="x2", yaxis="y2", hoverinfo="skip"))
fig.add_trace(go.Scatter(x=lwp_phy3c_t, y=lwp_phy3c_v, mode="lines",
                         line=dict(color=C_BROWN, width=4.5),
                         xaxis="x2", yaxis="y2", hoverinfo="skip"))

# ---------- bottom: DQ flags ----------
for offset, col, extra in [(0.0, C_ORANGE, {4: dq_mwr2c_extra_flag4}),
                           (dq_mwr3c_offset, C_BROWN, {1: dq_mwr3c_flag1})]:
    dx, dy = [], []
    for flag, runs in dq_flag_runs.items():
        for s, e in runs:
            dx += [s, e, None]
            dy += [flag + offset, flag + offset, None]
    for flag, times in extra.items():
        for t in times:
            dx += [t, None]
            dy += [flag + offset, None]
    fig.add_trace(go.Scatter(x=dx, y=dy, mode="lines+markers",
                             line=dict(color=col, width=8),
                             marker=dict(color=col, size=9),
                             xaxis="x3", yaxis="y3", hoverinfo="skip"))

# ---------- axes ----------
xdom = [px(376), px(3000)]
panels = [  # (axis suffix, top px, bottom px, y range, y ticks)
    ("", 296, 1201, PWV_RANGE, [0.8, 1.0, 1.2, 1.4, 1.6]),
    ("2", 1425, 2325, LWP_RANGE, [0, 0.5, 1, 1.5, 2, 2.5]),
    ("3", 2547, 3453, DQ_RANGE, [0, 2, 4, 6, 8, 10]),
]
for sfx, top, bot, yr, yt in panels:
    fig.update_layout({
        "xaxis" + sfx: dict(
            domain=xdom, range=[0, 24], anchor="y" + sfx,
            tickvals=[0, 5, 10, 15, 20], ticks="inside", ticklen=26,
            tickwidth=2, tickcolor=AX_DARK, showline=True, linecolor=AX_DARK,
            linewidth=2, showgrid=False, zeroline=False,
            tickfont=dict(family=FONT, size=41, color=AX_DARK),
            ticklabelstandoff=6),
        "yaxis" + sfx: dict(
            domain=[py(bot), py(top)], range=yr, anchor="x" + sfx,
            tickvals=yt, ticks="inside", ticklen=26, tickwidth=2,
            tickcolor=AX_BLUE, showline=True, linecolor=AX_BLUE, linewidth=2,
            mirror=True, showgrid=False, zeroline=False,
            tickfont=dict(family=FONT, size=41, color=AX_BLUE),
            ticklabelstandoff=8),
    })
    fig.add_annotation(xref="paper", yref="paper", x=px(1688), y=py(bot + 110),
                       text="UTC hours on 20250601", showarrow=False,
                       xanchor="center", yanchor="middle",
                       font=dict(family=FONT, size=44, color=AX_DARK))

ytitles = [("Precip. Water Vapor, mm", 239, 748),
           ("log10 Liquid Water Path, log10(g/m<sup>2</sup> )", 239, 1875),
           ("DQ Flag", 252, 3000)]
for txt, xc, yc in ytitles:
    fig.add_annotation(xref="paper", yref="paper", x=px(xc), y=py(yc),
                       text=txt, showarrow=False, textangle=-90,
                       xanchor="center", yanchor="middle",
                       font=dict(family=FONT, size=44, color=AX_BLUE))


# ---------- legends (drawn like the MATLAB ones) ----------
def line_legend(names, colors, x0, x1, xt, y0, dy):
    for i, (nm, col) in enumerate(zip(names, colors)):
        yy = py(y0 + dy * i)
        fig.add_shape(type="line", xref="paper", yref="paper",
                      x0=px(x0), x1=px(x1), y0=yy, y1=yy,
                      line=dict(color=col, width=4.5))
        fig.add_annotation(xref="paper", yref="paper", x=px(xt), y=yy,
                           text=nm, showarrow=False, xanchor="left",
                           yanchor="middle",
                           font=dict(family=FONT, size=39, color="black"))


series_colors = [C_BLUE, C_LBLUE, C_ORANGE, C_BROWN]
line_legend(pwv_names, series_colors, 1802, 1949, 1962, 371, 52)
line_legend(lwp_names, series_colors, 2458, 2602, 2616, 1498, 51)

for i, (nm, col) in enumerate(zip(dq_names, [C_ORANGE, C_BROWN])):
    yc = 2598 + 53 * i
    fig.add_shape(type="circle", xref="paper", yref="paper",
                  x0=px(2690.5), x1=px(2699.5), y0=py(yc + 4.5), y1=py(yc - 4.5),
                  fillcolor=col, line=dict(width=0))
    fig.add_annotation(xref="paper", yref="paper", x=px(2779), y=py(yc),
                       text=nm, showarrow=False, xanchor="left", yanchor="middle",
                       font=dict(family=FONT, size=39, color="black"))

fig.update_layout(width=W, height=H, margin=dict(l=0, r=0, t=0, b=0),
                  paper_bgcolor="white", plot_bgcolor="white",
                  showlegend=False, font=dict(family=FONT))

fig.write_html("out.html")
